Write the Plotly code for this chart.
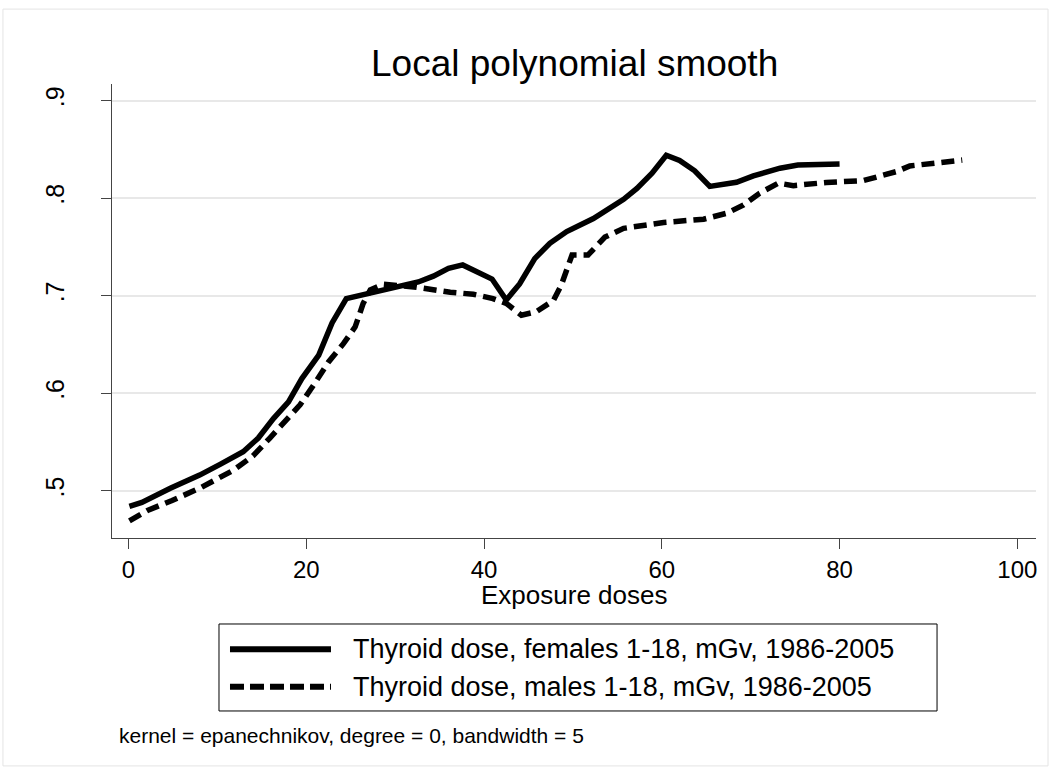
import plotly.graph_objects as go

# exposure dose (x) and smoothed value (y)
female_x = [0.1, 1.5, 4.7, 8.0, 10.3, 12.9, 14.6, 16.3, 18.0, 19.5, 21.4, 22.9, 24.5, 26.8,
            30.5, 32.6, 34.3, 36.0, 37.6, 39.2, 40.9, 42.5, 44.0, 45.7, 47.4, 49.3, 52.3,
            55.7, 57.2, 58.9, 60.5, 62.0, 63.7, 65.4, 68.4, 70.3, 73.3, 75.3, 80.0]
female_y = [0.484, 0.488, 0.5025, 0.516, 0.527, 0.540, 0.554, 0.574, 0.591, 0.615, 0.639,
            0.672, 0.697, 0.702, 0.7086, 0.714, 0.720, 0.728, 0.7315, 0.725, 0.717, 0.6956,
            0.712, 0.738, 0.7537, 0.7657, 0.779, 0.7988, 0.810, 0.8255, 0.844, 0.8385,
            0.828, 0.812, 0.8163, 0.8228, 0.8307, 0.834, 0.835]

male_x = [0.1, 2.2, 4.9, 8.0, 11.8, 14.0, 15.9, 17.8, 19.3, 20.8, 22.5, 24.2, 25.5, 26.4,
          27.2, 28.7, 30.5, 32.4, 36.2, 38.8, 41.0, 42.5, 44.2, 45.9, 47.8, 48.7, 49.9,
          51.7, 53.6, 55.7, 60.2, 64.7, 67.3, 69.2, 71.0, 73.1, 74.8, 78.5, 82.7, 86.4,
          87.9, 90.5, 93.8]
male_y = [0.469, 0.480, 0.490, 0.5025, 0.521, 0.5356, 0.554, 0.574, 0.588, 0.608, 0.632,
          0.651, 0.668, 0.692, 0.706, 0.7117, 0.710, 0.7086, 0.7035, 0.7014, 0.697, 0.692,
          0.680, 0.6836, 0.695, 0.711, 0.7417, 0.7417, 0.760, 0.769, 0.775, 0.7784, 0.7845,
          0.793, 0.805, 0.8153, 0.8128, 0.816, 0.818, 0.8272, 0.833, 0.8358, 0.839]

x_ticks = [0, 20, 40, 60, 80, 100]
y_ticks = [0.5, 0.6, 0.7, 0.8, 0.9]
y_tick_text = [".5", ".6", ".7", ".8", ".9"]

series_names = ["Thyroid dose, females 1-18, mGv, 1986-2005",
                "Thyroid dose, males 1-18, mGv, 1986-2005"]

FONT = "Liberation Sans, Arial, Helvetica, sans-serif"

fig = go.Figure()
fig.add_trace(go.Scatter(x=female_x, y=female_y, mode="lines", name=series_names[0],
                         line=dict(color="black", width=5.5)))
fig.add_trace(go.Scatter(x=male_x, y=male_y, mode="lines", name=series_names[1],
                         line=dict(color="black", width=5.5, dash="13px,7px")))

# frame around the whole graph
fig.add_shape(type="rect", xref="paper", yref="paper", x0=-0.118, x1=1.013, y0=-0.502, y1=1.165,
              line=dict(color="#e4e4e4", width=1), layer="below")

# legend box drawn by hand (Stata style: long line samples)
fig.add_shape(type="rect", xref="paper", yref="paper", x0=0.1158, x1=0.8929, y0=-0.381, y1=-0.1894,
              line=dict(color="black", width=1))
for yy, dash in ((-0.2452, "solid"), (-0.3275, "14px,6px")):
    fig.add_shape(type="line", xref="paper", yref="paper", x0=0.1277, x1=0.2370, y0=yy, y1=yy,
                  line=dict(color="black", width=6, dash=dash))
for yy, name in zip((-0.2452, -0.3275), series_names):
    fig.add_annotation(x=0.259, y=yy, xref="paper", yref="paper", text=name, showarrow=False,
                       xanchor="left", yanchor="middle", font=dict(size=27, color="black"))

fig.add_annotation(x=0.5, y=1.046, xref="paper", yref="paper", text="Local polynomial smooth",
                   showarrow=False, xanchor="center", yanchor="middle",
                   font=dict(size=37, color="black"))
fig.add_annotation(x=0.5, y=-0.126, xref="paper", yref="paper", text="Exposure doses",
                   showarrow=False, xanchor="center", yanchor="middle",
                   font=dict(size=26, color="black"))
fig.add_annotation(x=0.0054, y=-0.434, xref="paper", yref="paper",
                   text="kernel = epanechnikov, degree = 0, bandwidth = 5",
                   showarrow=False, xanchor="left", yanchor="middle",
                   font=dict(size=21, color="black"))

fig.update_xaxes(range=[-1.86, 102.1], tickvals=x_ticks, showgrid=False, zeroline=False,
                 showline=True, linecolor="#444", linewidth=1, ticks="outside", ticklen=10,
                 tickcolor="#444", tickfont=dict(size=24, color="black"))
fig.update_yaxes(range=[0.4515, 0.917], tickvals=y_ticks, ticktext=y_tick_text, tickangle=-90,
                 showgrid=True, gridcolor="#e8e8e8", gridwidth=2, zeroline=False,
                 showline=True, linecolor="#444", linewidth=1, ticks="outside", ticklen=10,
                 tickcolor="#444", tickfont=dict(size=25, color="black"), ticklabelstandoff=27)
fig.update_layout(width=1051, height=769, showlegend=False, plot_bgcolor="white",
                  paper_bgcolor="white", font=dict(family=FONT, color="black"),
                  margin=dict(l=112, r=15, t=84, b=231))

fig.write_html("out.html", config={"displayModeBar": False},
               post_script="document.body.style.margin='0';")
